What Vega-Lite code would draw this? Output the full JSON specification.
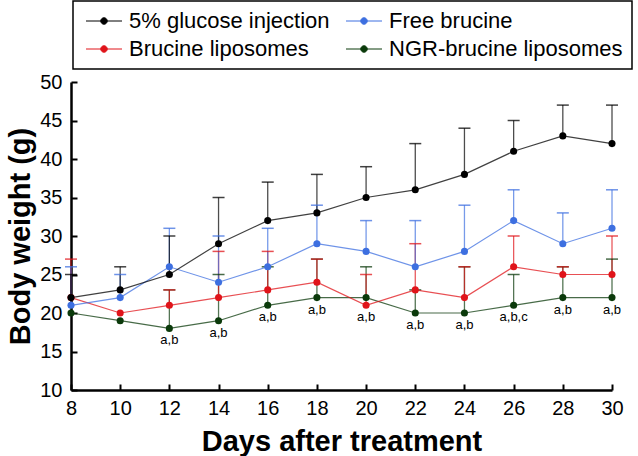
{
  "$schema": "https://vega.github.io/schema/vega-lite/v6.json",
  "width": 541,
  "height": 308,
  "autosize": {"type": "none"},
  "padding": {"left": 71, "top": 82, "right": 26, "bottom": 66},
  "background": "white",
  "config": {
    "view": {"stroke": null},
    "font": "Liberation Sans",
    "axis": {
      "grid": false,
      "labelFontSize": 20,
      "labelColor": "black",
      "labelFont": "Liberation Sans",
      "labelFlush": false,
      "titleFontSize": 29,
      "titleFontWeight": "bold",
      "titleColor": "black",
      "titleFont": "Liberation Sans",
      "tickSize": -6,
      "tickWidth": 2,
      "tickColor": "black",
      "domainColor": "black",
      "domainWidth": 2.5
    },
    "axisX": {"labelPadding": 14, "titlePadding": 9},
    "axisY": {"labelPadding": 15, "titlePadding": 4}
  },
  "data": {
    "values": [
      {"day": 8, "group": "NGR-brucine liposomes", "mean": 20, "upper": null, "label": null},
      {"day": 10, "group": "NGR-brucine liposomes", "mean": 19, "upper": null, "label": null},
      {"day": 12, "group": "NGR-brucine liposomes", "mean": 18, "upper": 23, "label": "a,b"},
      {"day": 14, "group": "NGR-brucine liposomes", "mean": 19, "upper": 25, "label": "a,b"},
      {"day": 16, "group": "NGR-brucine liposomes", "mean": 21, "upper": 26, "label": "a,b"},
      {"day": 18, "group": "NGR-brucine liposomes", "mean": 22, "upper": 27, "label": "a,b"},
      {"day": 20, "group": "NGR-brucine liposomes", "mean": 22, "upper": 26, "label": "a,b"},
      {"day": 22, "group": "NGR-brucine liposomes", "mean": 20, "upper": 23, "label": "a,b"},
      {"day": 24, "group": "NGR-brucine liposomes", "mean": 20, "upper": 26, "label": "a,b"},
      {"day": 26, "group": "NGR-brucine liposomes", "mean": 21, "upper": 25, "label": "a,b,c"},
      {"day": 28, "group": "NGR-brucine liposomes", "mean": 22, "upper": 26, "label": "a,b"},
      {"day": 30, "group": "NGR-brucine liposomes", "mean": 22, "upper": 27, "label": "a,b"},
      {"day": 8, "group": "Brucine liposomes", "mean": 22, "upper": 27, "label": null},
      {"day": 10, "group": "Brucine liposomes", "mean": 20, "upper": null, "label": null},
      {"day": 12, "group": "Brucine liposomes", "mean": 21, "upper": 23, "label": null},
      {"day": 14, "group": "Brucine liposomes", "mean": 22, "upper": 28, "label": null},
      {"day": 16, "group": "Brucine liposomes", "mean": 23, "upper": 28, "label": null},
      {"day": 18, "group": "Brucine liposomes", "mean": 24, "upper": 27, "label": null},
      {"day": 20, "group": "Brucine liposomes", "mean": 21, "upper": 25, "label": null},
      {"day": 22, "group": "Brucine liposomes", "mean": 23, "upper": 29, "label": null},
      {"day": 24, "group": "Brucine liposomes", "mean": 22, "upper": 26, "label": null},
      {"day": 26, "group": "Brucine liposomes", "mean": 26, "upper": 30, "label": null},
      {"day": 28, "group": "Brucine liposomes", "mean": 25, "upper": 26, "label": null},
      {"day": 30, "group": "Brucine liposomes", "mean": 25, "upper": 30, "label": null},
      {"day": 8, "group": "Free brucine", "mean": 21, "upper": 26, "label": null},
      {"day": 10, "group": "Free brucine", "mean": 22, "upper": 25, "label": null},
      {"day": 12, "group": "Free brucine", "mean": 26, "upper": 31, "label": null},
      {"day": 14, "group": "Free brucine", "mean": 24, "upper": 30, "label": null},
      {"day": 16, "group": "Free brucine", "mean": 26, "upper": 31, "label": null},
      {"day": 18, "group": "Free brucine", "mean": 29, "upper": 34, "label": null},
      {"day": 20, "group": "Free brucine", "mean": 28, "upper": 32, "label": null},
      {"day": 22, "group": "Free brucine", "mean": 26, "upper": 32, "label": null},
      {"day": 24, "group": "Free brucine", "mean": 28, "upper": 34, "label": null},
      {"day": 26, "group": "Free brucine", "mean": 32, "upper": 36, "label": null},
      {"day": 28, "group": "Free brucine", "mean": 29, "upper": 33, "label": null},
      {"day": 30, "group": "Free brucine", "mean": 31, "upper": 36, "label": null},
      {"day": 8, "group": "5% glucose injection", "mean": 22, "upper": 25, "label": null},
      {"day": 10, "group": "5% glucose injection", "mean": 23, "upper": 26, "label": null},
      {"day": 12, "group": "5% glucose injection", "mean": 25, "upper": 30, "label": null},
      {"day": 14, "group": "5% glucose injection", "mean": 29, "upper": 35, "label": null},
      {"day": 16, "group": "5% glucose injection", "mean": 32, "upper": 37, "label": null},
      {"day": 18, "group": "5% glucose injection", "mean": 33, "upper": 38, "label": null},
      {"day": 20, "group": "5% glucose injection", "mean": 35, "upper": 39, "label": null},
      {"day": 22, "group": "5% glucose injection", "mean": 36, "upper": 42, "label": null},
      {"day": 24, "group": "5% glucose injection", "mean": 38, "upper": 44, "label": null},
      {"day": 26, "group": "5% glucose injection", "mean": 41, "upper": 45, "label": null},
      {"day": 28, "group": "5% glucose injection", "mean": 43, "upper": 47, "label": null},
      {"day": 30, "group": "5% glucose injection", "mean": 42, "upper": 47, "label": null}
    ]
  },
  "encoding": {
    "x": {
      "field": "day",
      "type": "quantitative",
      "scale": {"domain": [8, 30], "nice": false, "zero": false},
      "title": "Days after treatment",
      "axis": {"values": [8, 10, 12, 14, 16, 18, 20, 22, 24, 26, 28, 30]}
    },
    "color": {
      "field": "group",
      "type": "nominal",
      "scale": {
        "domain": ["5% glucose injection", "Brucine liposomes", "Free brucine", "NGR-brucine liposomes"],
        "range": ["#000000", "#e0141a", "#3d6fe0", "#0b3a0b"]
      },
      "legend": {
        "title": null,
        "orient": "none",
        "legendX": 2,
        "legendY": -81,
        "columns": 2,
        "symbolType": "M-2,0L2,0M-0.36,0A0.36,0.36 0 1,0 0.36,0A0.36,0.36 0 1,0 -0.36,0Z",
        "symbolSize": 324,
        "symbolOffset": 11,
        "symbolStrokeWidth": 1,
        "symbolOpacity": 1,
        "labelOffset": 14,
        "labelFontSize": 22,
        "labelFont": "Liberation Sans",
        "labelColor": "black",
        "labelLimit": 400,
        "columnPadding": 12,
        "rowPadding": 6,
        "padding": 9,
        "strokeColor": "black",
        "fillColor": "white",
        "cornerRadius": 0,
        "encode": {
          "symbols": {"update": {"fill": {"scale": "color", "field": "value"}, "stroke": {"scale": "color", "field": "value"}}},
          "legend": {"update": {"strokeWidth": {"value": 1.5}}}
        }
      }
    }
  },
  "layer": [
    {
      "transform": [{"filter": "datum.upper != null"}],
      "mark": {"type": "rule", "strokeWidth": 1.3, "opacity": 0.7},
      "encoding": {
        "y": {
          "field": "mean",
          "type": "quantitative",
          "scale": {"domain": [10, 50], "nice": false, "zero": false},
          "title": "Body weight (g)",
          "axis": {"values": [10, 15, 20, 25, 30, 35, 40, 45, 50]}
        },
        "y2": {"field": "upper"}
      }
    },
    {
      "transform": [{"filter": "datum.upper != null"}],
      "mark": {"type": "tick", "orient": "horizontal", "size": 12, "thickness": 1.5, "opacity": 0.75},
      "encoding": {
        "y": {
          "field": "upper",
          "type": "quantitative",
          "scale": {"domain": [10, 50], "nice": false, "zero": false},
          "title": "Body weight (g)",
          "axis": {"values": [10, 15, 20, 25, 30, 35, 40, 45, 50]}
        }
      }
    },
    {
      "mark": {"type": "line", "strokeWidth": 1.2, "opacity": 0.75},
      "encoding": {
        "y": {
          "field": "mean",
          "type": "quantitative",
          "scale": {"domain": [10, 50], "nice": false, "zero": false},
          "title": "Body weight (g)",
          "axis": {"values": [10, 15, 20, 25, 30, 35, 40, 45, 50]}
        }
      }
    },
    {
      "mark": {"type": "point", "filled": true, "size": 50, "opacity": 1},
      "encoding": {
        "y": {
          "field": "mean",
          "type": "quantitative",
          "scale": {"domain": [10, 50], "nice": false, "zero": false},
          "title": "Body weight (g)",
          "axis": {"values": [10, 15, 20, 25, 30, 35, 40, 45, 50]}
        }
      }
    },
    {
      "transform": [
        {"joinaggregate": [{"op": "min", "field": "mean", "as": "low"}], "groupby": ["day"]},
        {"filter": "datum.label != null"}
      ],
      "mark": {"type": "text", "dy": 12, "fontSize": 13, "font": "Liberation Sans", "baseline": "middle"},
      "encoding": {
        "y": {
          "field": "low",
          "type": "quantitative",
          "scale": {"domain": [10, 50], "nice": false, "zero": false},
          "title": "Body weight (g)",
          "axis": {"values": [10, 15, 20, 25, 30, 35, 40, 45, 50]}
        },
        "text": {"field": "label"},
        "color": {"value": "black"}
      }
    }
  ]
}
